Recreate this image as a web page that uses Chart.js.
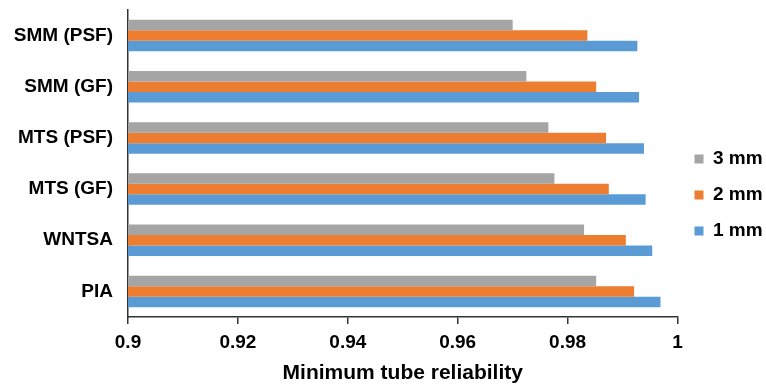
<!DOCTYPE html>
<html>
<head>
<meta charset="utf-8">
<script src="https://cdn.jsdelivr.net/npm/chart.js@4.4.1/dist/chart.umd.min.js"></script>
<style>
  html, body { margin: 0; padding: 0; background: #fff; }
  #wrap { width: 766px; height: 387px; position: relative; }
</style>
</head>
<body>
<div id="wrap"><canvas id="chart"></canvas></div>
<script>
// Methods, listed top to bottom
const categories = ['SMM (PSF)', 'SMM (GF)', 'MTS (PSF)', 'MTS (GF)', 'WNTSA', 'PIA'];

// Minimum tube reliability per tube size
const series3mm = [0.9700, 0.9725, 0.9765, 0.9776, 0.9830, 0.9852];
const series2mm = [0.9836, 0.9852, 0.9870, 0.9875, 0.9906, 0.9921];
const series1mm = [0.9927, 0.9930, 0.9939, 0.9942, 0.9954, 0.9969];

const seriesNames = ['3 mm', '2 mm', '1 mm'];
const xTickValues = [0.9, 0.92, 0.94, 0.96, 0.98, 1];
const xTitle = 'Minimum tube reliability';

const FONT = '"Liberation Sans", Arial, sans-serif';

new Chart(document.getElementById('chart'), {
  type: 'bar',
  data: {
    labels: categories,
    datasets: [
      { label: seriesNames[0], data: series3mm, backgroundColor: '#A5A5A5' },
      { label: seriesNames[1], data: series2mm, backgroundColor: '#ED7D31' },
      { label: seriesNames[2], data: series1mm, backgroundColor: '#5B9BD5' }
    ]
  },
  options: {
    indexAxis: 'y',
    responsive: true,
    maintainAspectRatio: false,
    animation: false,
    datasets: { bar: { categoryPercentage: 0.615, barPercentage: 1.0 } },
    layout: { padding: { top: 3, left: 0, right: 0, bottom: 0 } },
    plugins: {
      tooltip: { enabled: false },
      legend: {
        position: 'right',
        align: 'center',
        maxWidth: 88.5,
        labels: {
          boxWidth: 9,
          boxHeight: 9,
          padding: 17,
          color: '#000',
          font: { family: FONT, size: 19, weight: 'bold', lineHeight: 0.947 }
        }
      }
    },
    scales: {
      x: {
        min: 0.9,
        max: 1,
        afterBuildTicks: (scale) => { scale.ticks = xTickValues.map(v => ({ value: v })); },
        afterFit: (scale) => { scale.height = 70; },
        grid: { display: true, drawOnChartArea: false, drawTicks: true, tickLength: 7, color: '#333', lineWidth: 1.5 },
        border: { display: true, color: '#333', width: 1.5 },
        ticks: {
          color: '#000',
          padding: 7,
          maxRotation: 0,
          font: { family: FONT, size: 19, weight: 'bold' },
          callback: (v) => String(parseFloat(Number(v).toFixed(2)))
        },
        title: {
          display: true,
          text: xTitle,
          color: '#000',
          padding: { top: 2, bottom: 1 },
          font: { family: FONT, size: 21, weight: 'bold' }
        }
      },
      y: {
        afterFit: (scale) => {
          scale.width = 128;
          scale.paddingTop = 10;
          scale.paddingBottom = 0;
        },
        grid: { display: false, drawTicks: false },
        border: { display: true, color: '#333', width: 1.5 },
        ticks: {
          color: '#000',
          padding: 15,
          font: { family: FONT, size: 19, weight: 'bold' }
        }
      }
    }
  }
});
</script>
</body>
</html>
